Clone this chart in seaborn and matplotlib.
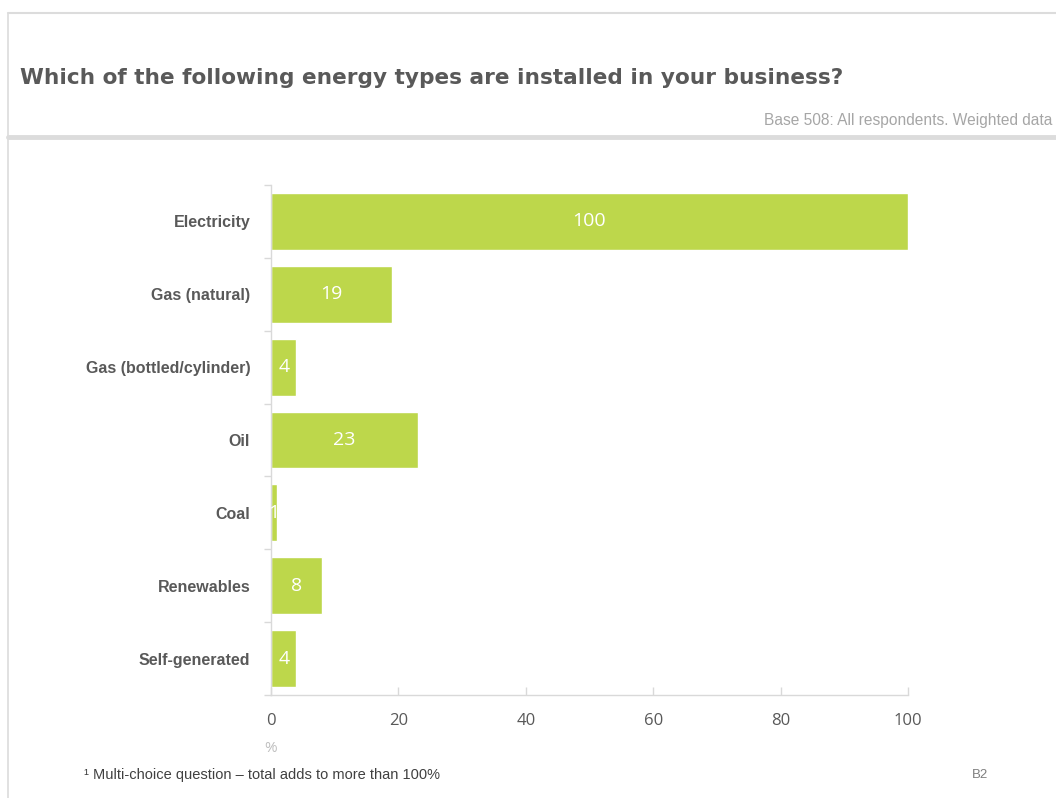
import matplotlib
matplotlib.use("Agg")
import matplotlib.pyplot as plt
from matplotlib.lines import Line2D
import seaborn as sns
import pandas as pd
import numpy as np

categories = ["Electricity", "Gas (natural)", "Gas (bottled/cylinder)", "Oil", "Coal", "Renewables", "Self-generated"]
values = [100, 19, 4, 23, 1, 8, 4]
x_ticks = [0, 20, 40, 60, 80, 100]

title = "Which of the following energy types are installed in your business?"
base_note = "Base 508: All respondents. Weighted data"
footnote = "\u00b9 Multi-choice question \u2013 total adds to more than 100%"
slide_ref = "B2"
unit = "%"

BAR = "#BDD74B"
DARK = "#595959"
LIGHTLINE = "#D9D9D9"

sns.set_theme(style="white")
plt.rcParams["font.family"] = ["Liberation Sans", "DejaVu Sans"]

W, H = 1056, 798
fig = plt.figure(figsize=(W / 100, H / 100), dpi=100)

def px(x, y):
    return x / W, 1 - y / H

ax = fig.add_axes([271 / W, (H - 695) / H, (908 - 271) / W, 510 / H])

df = pd.DataFrame({"category": categories, "value": values})
sns.barplot(data=df, x="value", y="category", orient="h", color=BAR,
            saturation=1, width=0.78, ax=ax, order=categories)

ax.set_xlim(0, 100)
ax.set_ylim(len(categories) - 0.5, -0.5)
ax.set_xlabel("")
ax.set_ylabel("")

for c in ax.containers:
    ax.bar_label(c, labels=[str(v) for v in values], label_type="center",
                 color="white", fontsize=14, family="Open Sans")

# spines
for s in ["top", "right"]:
    ax.spines[s].set_visible(False)
for s in ["left", "bottom"]:
    ax.spines[s].set_visible(True)
    ax.spines[s].set_color(LIGHTLINE)
    ax.spines[s].set_linewidth(1.0)

ax.set_xticks(x_ticks)
ax.set_xticklabels([str(t) for t in x_ticks], fontsize=12, color=DARK, family="Open Sans")
ax.tick_params(axis="x", direction="in", length=6, color=LIGHTLINE, width=1, pad=13, bottom=True)

ax.set_yticks(range(len(categories)))
ax.set_yticklabels(categories, fontsize=11.5, color=DARK, fontweight="bold")
ax.set_yticks(np.arange(-0.5, len(categories), 1.0), minor=True)
ax.tick_params(axis="y", which="major", length=0, pad=15)
ax.tick_params(axis="y", which="minor", direction="out", length=5, color=LIGHTLINE, width=1, left=True)

# slide decorations
fig.add_artist(Line2D([8 / W, 1], [1 - 13 / H, 1 - 13 / H], color="#DCDCDC", lw=1.5, transform=fig.transFigure))
fig.add_artist(Line2D([8 / W, 8 / W], [1 - 13 / H, 0], color="#DCDCDC", lw=1.2, transform=fig.transFigure))
fig.add_artist(Line2D([8 / W, 1], [1 - 136.5 / H, 1 - 136.5 / H], color="#DCDCDC", lw=3.5, transform=fig.transFigure))

fig.text(*px(20, 78), title, fontsize=15.6, fontweight="bold", color=DARK,
         family="DejaVu Sans", ha="left", va="center")
fig.text(*px(1052, 121), base_note, fontsize=11.2, color="#A6A6A6", ha="right", va="center")
fig.text(*px(271, 748), unit, fontsize=11, color="#BFBFBF", ha="center", va="center", family="Open Sans")
fig.text(*px(84, 775), footnote, fontsize=10.5, color="#404040", ha="left", va="center")
fig.text(*px(980, 775), slide_ref, fontsize=9.5, color="#7F7F7F", ha="center", va="center")

fig.savefig("out.png", dpi=100)
